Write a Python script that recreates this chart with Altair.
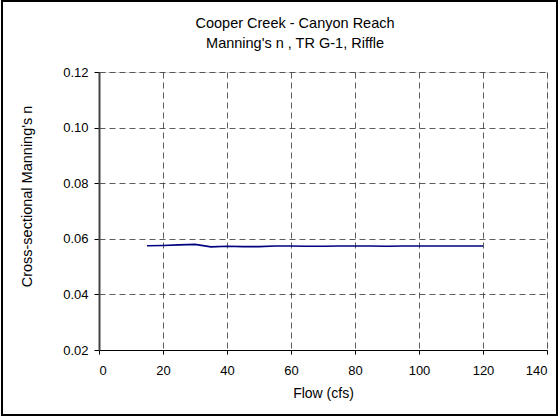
import altair as alt
import pandas as pd

# Manning's n vs. flow at the riffle cross-section
flow = [15, 20, 25, 30, 35, 40, 45, 50, 55, 60, 65, 70, 75, 80, 85, 90, 95, 100, 105, 110, 115, 120]
mannings_n = [0.0575, 0.0576, 0.0578, 0.0580, 0.0571, 0.0573, 0.0572, 0.0572, 0.0574, 0.0574,
              0.0573, 0.0573, 0.0574, 0.0574, 0.0574, 0.0573, 0.0574, 0.0574, 0.0574, 0.0574,
              0.0574, 0.0574]

title_lines = ["Cooper Creek - Canyon Reach", "Manning's n , TR G-1, Riffle"]

df = pd.DataFrame({"flow": flow, "n": mannings_n})

W, H = 448, 278
FONT = "Liberation Sans"

line = alt.Chart(df).mark_line(color="#000080", strokeWidth=1.6).encode(
    x=alt.X("flow:Q", scale=alt.Scale(domain=[0, 140], nice=False),
            axis=alt.Axis(values=[0, 20, 40, 60, 80, 100, 120, 140], title="Flow (cfs)",
                          grid=True, gridDash=[6, 4], gridColor="#333333", gridWidth=0.8,
                          domainColor="black", tickColor="black", tickSize=4,
                          labelPadding=10, titleFontWeight="normal",
                          titleY=43, titleBaseline="middle",
                          labelFont=FONT, titleFont=FONT, labelFontSize=13, titleFontSize=14)),
    y=alt.Y("n:Q", scale=alt.Scale(domain=[0.02, 0.12], nice=False),
            axis=alt.Axis(values=[0.02, 0.04, 0.06, 0.08, 0.10, 0.12], format=".2f",
                          title="Cross-sectional Manning's n",
                          grid=True, gridDash=[6, 4], gridColor="#333333", gridWidth=0.8,
                          domainColor="#444444", domainWidth=2, tickColor="black", tickSize=5,
                          labelPadding=6, titleFontWeight="normal",
                          titleX=-72, titleY=124, titleBaseline="middle", titleAlign="center",
                          labelFont=FONT, titleFont=FONT, labelFontSize=13, titleFontSize=14.5)),
)

# two-line heading above the plot
title_df = pd.DataFrame({"text": title_lines, "row": [0, 1]})
heading = alt.Chart(title_df).mark_text(
    font=FONT, fontSize=14.5, color="black", baseline="middle", align="center", clip=False
).encode(
    text="text:N",
    x=alt.value(196),
    y=alt.Y("row:Q", scale=alt.Scale(domain=[0, 1], range=[-48, -28]), axis=None),
)

# outer frame around the whole figure
frame = alt.Chart(df).mark_rect(filled=False, stroke="black", strokeWidth=1.5, clip=False).encode(
    x=alt.value(-97), x2=alt.value(W + 10), y=alt.value(-71), y2=alt.value(H + 65)
)

chart = alt.layer(line, heading, frame).resolve_scale(y="independent").properties(
    width=W, height=H,
    autosize=alt.AutoSizeParams(type="none"),
    padding={"left": 99, "top": 72, "right": 12, "bottom": 67},
).configure_view(stroke="black", strokeWidth=1).configure(background="white")

chart.save("out.html", embed_options={"renderer": "svg", "actions": False})
